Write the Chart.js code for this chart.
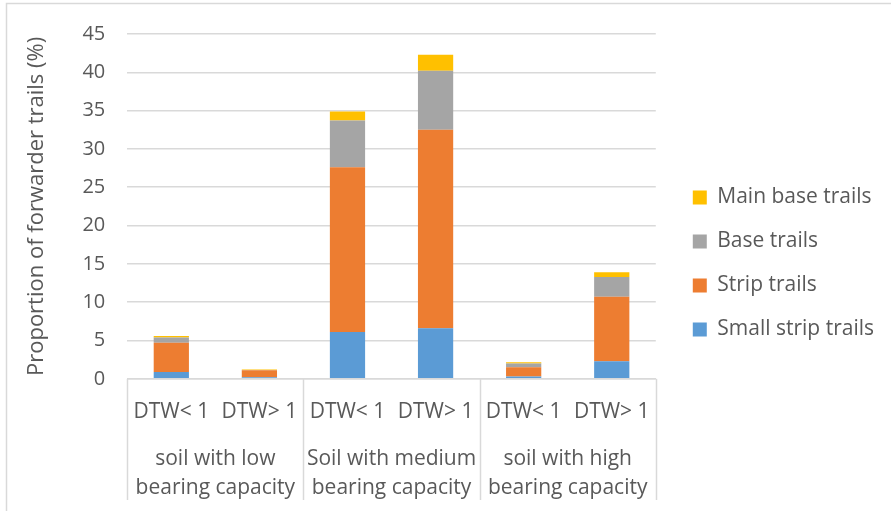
<!DOCTYPE html>
<html>
<head>
<meta charset="utf-8">
<script src="https://cdn.jsdelivr.net/npm/chart.js@4.4.1/dist/chart.umd.min.js"></script>
<style>
  html, body { margin: 0; padding: 0; background: #fff; }
  #wrap { width: 891px; height: 511px; position: relative; }
</style>
</head>
<body>
<div id="wrap"><canvas id="c" width="891" height="511"></canvas></div>
<script>
// Depth-to-water classes within each soil group
const dtwLabels = ['DTW< 1', 'DTW> 1', 'DTW< 1', 'DTW> 1', 'DTW< 1', 'DTW> 1'];
// Soil bearing-capacity groups (each spans two DTW classes)
const soilGroups = [
  ['soil with low', 'bearing capacity'],
  ['Soil with medium', 'bearing capacity'],
  ['soil with high', 'bearing capacity']
];
const yTicks = [0, 5, 10, 15, 20, 25, 30, 35, 40, 45];

// Proportion of forwarder trails (%) by trail type
const smallStripTrails = [0.9, 0.2, 6.1, 6.6, 0.3, 2.3];
const stripTrails      = [3.8, 0.9, 21.5, 25.9, 1.2, 8.4];
const baseTrails       = [0.7, 0.05, 6.1, 7.7, 0.5, 2.6];
const mainBaseTrails   = [0.2, 0.05, 1.2, 2.1, 0.15, 0.6];

const TEXT = '#595959';
const GRID = '#d9d9d9';
const FONT = '"Open Sans", Lato, sans-serif';

// Frame around the chart plus vertical dividers between soil groups
const framePlugin = {
  id: 'frame',
  beforeDraw(chart) {
    const ctx = chart.ctx;
    ctx.save();
    ctx.strokeStyle = GRID;
    ctx.lineWidth = 1.5;
    ctx.strokeRect(6.5, 3.5, chart.width + 20, chart.height + 20);
    ctx.restore();
  },
  afterDraw(chart) {
    const x = chart.scales.x;
    const ctx = chart.ctx;
    const n = dtwLabels.length;
    const step = (x.getPixelForValue(1) - x.getPixelForValue(0));
    const top = chart.chartArea.bottom;
    const bottom = chart.height - 11;
    ctx.save();
    ctx.strokeStyle = GRID;
    ctx.lineWidth = 1.5;
    for (let i = 0; i <= n; i += 2) {
      const px = Math.round(x.getPixelForValue(Math.min(i, n - 1)) + (i === n ? step / 2 : -step / 2)) + 0.5;
      ctx.beginPath();
      ctx.moveTo(px, top);
      ctx.lineTo(px, bottom);
      ctx.stroke();
    }
    ctx.restore();
  }
};

new Chart(document.getElementById('c'), {
  type: 'bar',
  data: {
    labels: dtwLabels,
    datasets: [
      { label: 'Small strip trails', data: smallStripTrails, backgroundColor: '#5B9BD5' },
      { label: 'Strip trails', data: stripTrails, backgroundColor: '#ED7D31' },
      { label: 'Base trails', data: baseTrails, backgroundColor: '#A5A5A5' },
      { label: 'Main base trails', data: mainBaseTrails, backgroundColor: '#FFC000' }
    ]
  },
  options: {
    responsive: false,
    animation: false,
    devicePixelRatio: 1,
    datasets: { bar: { categoryPercentage: 0.8, barPercentage: 0.5, borderWidth: 0 } },
    layout: { padding: { top: 19, left: 24, right: 7, bottom: 3 } },
    plugins: {
      tooltip: { enabled: false },
      title: { display: false },
      legend: {
        position: 'right',
        reverse: true,
        align: 'center',
        maxWidth: 260,
        labels: {
          color: TEXT,
          font: { family: FONT, size: 21 },
          boxWidth: 14,
          boxHeight: 14,
          padding: 23
        }
      }
    },
    scales: {
      x: {
        stacked: true,
        grid: { display: false },
        border: { display: true, color: GRID, width: 1.5 },
        ticks: {
          color: TEXT,
          font: { family: FONT, size: 21 },
          maxRotation: 0,
          autoSkip: false,
          padding: 13
        }
      },
      x2: {
        type: 'category',
        position: 'bottom',
        labels: soilGroups,
        offset: true,
        grid: { display: false },
        border: { display: false },
        ticks: {
          color: TEXT,
          font: { family: FONT, size: 21, lineHeight: 1.4 },
          maxRotation: 0,
          autoSkip: false,
          padding: -2
        },
        afterFit(scale) { scale.height = 70; }
      },
      y: {
        stacked: true,
        min: 0,
        max: 45,
        afterBuildTicks(scale) { scale.ticks = yTicks.map(v => ({ value: v })); },
        grid: { color: GRID, lineWidth: 1.5, drawTicks: false },
        border: { display: false },
        ticks: {
          color: TEXT,
          font: { family: FONT, size: 20 },
          padding: 22
        },
        title: {
          display: true,
          text: 'Proportion of forwarder trails (%)',
          color: TEXT,
          font: { family: FONT, size: 22 },
          padding: { top: 0, bottom: 10 }
        }
      },
      // empty right-hand gutter between the plot and the legend
      gutter: {
        type: 'linear',
        position: 'right',
        grid: { display: false },
        border: { display: false },
        ticks: { display: false },
        afterFit(scale) { scale.width = 14; }
      }
    }
  },
  plugins: [framePlugin]
});
</script>
</body>
</html>
